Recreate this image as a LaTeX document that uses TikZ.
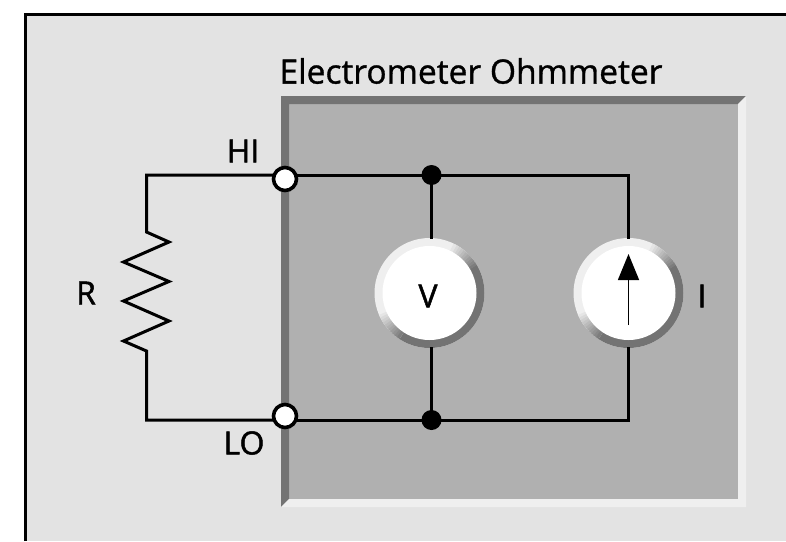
\documentclass[tikz,border=0pt]{standalone}
\usepackage{fontspec}
\setmainfont{Open Sans}
\usetikzlibrary{arrows.meta}
\definecolor{panelgray}{HTML}{E3E3E3}
\definecolor{boxgray}{HTML}{B0B0B0}
\definecolor{bevdark}{HTML}{737373}
\definecolor{bevlight}{HTML}{EFEFEF}
\tikzset{
	wire/.style={draw, black, line width=3pt, line cap=rect, line join=miter},
	label/.style={inner sep=0pt, font=\fontsize{32}{32}\selectfont\addfontfeature{FakeBold=1.5}},
	title/.style={inner sep=0pt, font=\fontsize{33.6}{34}\selectfont\addfontfeature{FakeBold=1}},
	terminal/.style={circle, draw, line width=3.6pt, fill=white, minimum size=23pt, inner sep=0pt},
	junction/.style={circle, fill=black, minimum size=20pt, inner sep=0pt},
	meter/.style={circle, minimum size=110pt, inner sep=0pt,
			path picture={
					\begin{scope}[shift={(path picture bounding box.center)}]
						\fill[bevlight] (-70pt,-70pt) rectangle (70pt,70pt);
						\fill[bevdark] (0pt,0pt) -- (31:90pt) -- (-45:90pt) -- (-123:90pt) -- cycle;
						\foreach \a in {31,34,...,61}{
								\pgfmathsetmacro{\pct}{100-(\a-28)*100/36}
								\fill[bevdark!\pct!bevlight] (0pt,0pt) -- (\a-0.5:90pt) -- (\a+3:90pt) -- cycle;
							}
						\foreach \a in {204,207,...,234}{
								\pgfmathsetmacro{\pct}{(\a-201)*100/36}
								\fill[bevdark!\pct!bevlight] (0pt,0pt) -- (\a-0.5:90pt) -- (\a+3:90pt) -- cycle;
							}
						\fill[white] (0pt,0pt) circle[radius=47pt];
					\end{scope}
				}},
}
\begin{document}
\begin{tikzpicture}[x=1pt, y=-1pt]
\useasboundingbox (0,0) rectangle (786,541);

% panel and box
\path[fill=panelgray] (25.5,541) -- (25.5,14.5) -- (786,14.5) -- (786,541) -- cycle;
\draw[black, line width=3pt] (25.5,541) -- (25.5,14.5) -- (786,14.5);
\fill[boxgray] (289,104) rectangle (738,499);
\fill[bevdark] (281,507) -- (281,96) -- (746,96) -- (738,104) -- (289,104) -- (289,499) -- cycle;
\fill[bevlight] (281,507) -- (746,507) -- (746,96) -- (738,104) -- (738,499) -- (289,499) -- cycle;

\node[title] (heading) at (471,71) {Electrometer Ohmmeter};

% meters
\node[meter] (V) at (429.5,293) {};
\node[meter] (I) at (628.5,293) {};
\node[label] (Vlabel) at (428,296) {V};
\node[label] (Ilabel) at (702,296) {I};

% wiring
\coordinate (hitop) at (285,175);
\coordinate (lobot) at (285,420);
\coordinate (rtop) at (146.5,175);
\coordinate (rbot) at (146.5,420);
\coordinate (jtopx) at (431.5,175);
\coordinate (jbotx) at (431.5,420);
\coordinate (itop) at (628.5,175);
\coordinate (ibot) at (628.5,420);
\draw[wire] (hitop) -- (rtop) -- (146.5,232) -- (169,242) -- (123.5,262) -- (169,281.5) -- (123.5,301) -- (169,321) -- (123.5,341) -- (146.5,351) -- (rbot) -- (lobot);
\draw[wire] (hitop) -- (itop) -- (I.north);
\draw[wire] (lobot) -- (ibot) -- (I.south);
\draw[wire] (jtopx) -- (jtopx |- V.north);
\draw[wire] (jbotx) -- (jbotx |- V.south);

\node[junction] (jtop) at (jtopx) {};
\node[junction] (jbot) at (jbotx) {};
\node[terminal] (HIterm) at (285,179) {};
\node[terminal] (LOterm) at (285,416) {};

% source arrow
\coordinate (arrowtail) at (628.5,325);
\coordinate (arrowtip) at (628.5,254);
\draw[line width=1.5pt, -{Triangle[length=26pt, width=21pt]}] (arrowtail) -- (arrowtip);

\node[label] (R) at (86,293) {R};
\node[label] (HI) at (243,151) {HI};
\node[label] (LO) at (244,443) {LO};
\end{tikzpicture}
\end{document}
